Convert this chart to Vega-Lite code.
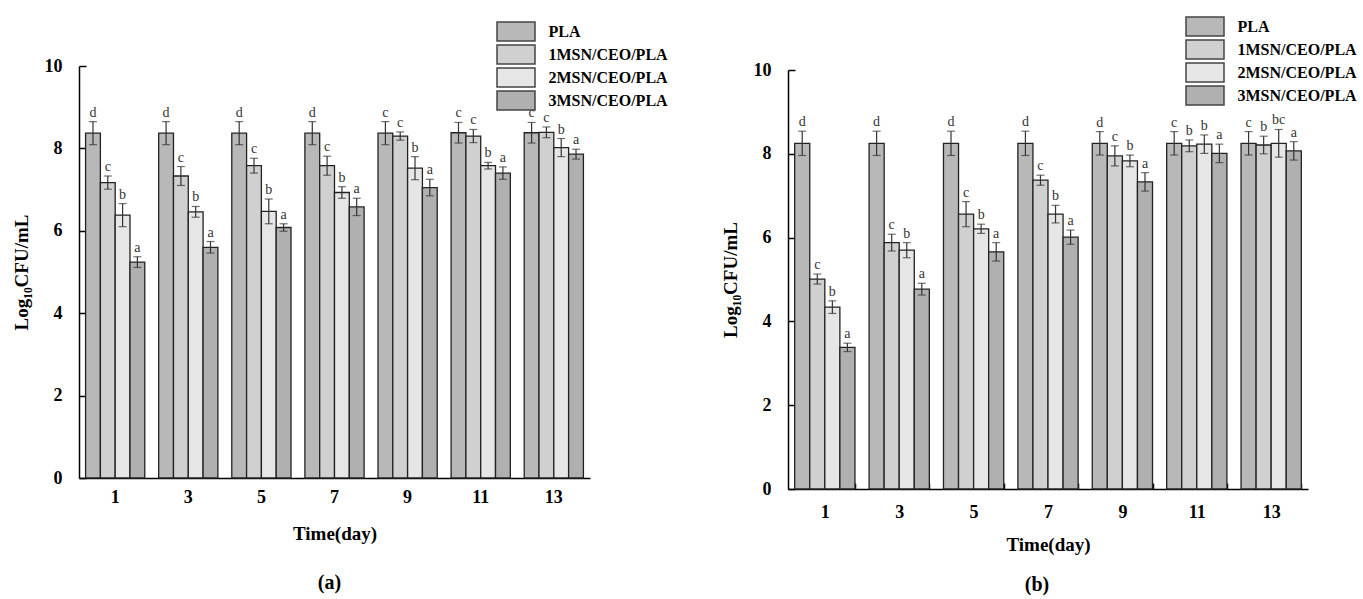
{
  "$schema": "https://vega.github.io/schema/vega-lite/v6.json",
  "background": "white",
  "padding": {"left": 12, "top": 16, "right": 0, "bottom": 0},
  "bounds": "flush",
  "spacing": 198,
  "config": {
    "view": {"stroke": null},
    "font": "Liberation Serif"
  },
  "datasets": {
    "a": [
      {"day": "1", "series": "PLA", "v": 8.37, "lo": 8.09, "hi": 8.65, "letter": "d"},
      {"day": "1", "series": "1MSN/CEO/PLA", "v": 7.17, "lo": 7.01, "hi": 7.33, "letter": "c"},
      {"day": "1", "series": "2MSN/CEO/PLA", "v": 6.38, "lo": 6.10, "hi": 6.66, "letter": "b"},
      {"day": "1", "series": "3MSN/CEO/PLA", "v": 5.24, "lo": 5.11, "hi": 5.37, "letter": "a"},
      {"day": "3", "series": "PLA", "v": 8.37, "lo": 8.09, "hi": 8.65, "letter": "d"},
      {"day": "3", "series": "1MSN/CEO/PLA", "v": 7.33, "lo": 7.10, "hi": 7.56, "letter": "c"},
      {"day": "3", "series": "2MSN/CEO/PLA", "v": 6.46, "lo": 6.33, "hi": 6.59, "letter": "b"},
      {"day": "3", "series": "3MSN/CEO/PLA", "v": 5.60, "lo": 5.46, "hi": 5.74, "letter": "a"},
      {"day": "5", "series": "PLA", "v": 8.37, "lo": 8.09, "hi": 8.65, "letter": "d"},
      {"day": "5", "series": "1MSN/CEO/PLA", "v": 7.58, "lo": 7.40, "hi": 7.76, "letter": "c"},
      {"day": "5", "series": "2MSN/CEO/PLA", "v": 6.47, "lo": 6.17, "hi": 6.77, "letter": "b"},
      {"day": "5", "series": "3MSN/CEO/PLA", "v": 6.08, "lo": 5.99, "hi": 6.17, "letter": "a"},
      {"day": "7", "series": "PLA", "v": 8.37, "lo": 8.09, "hi": 8.65, "letter": "d"},
      {"day": "7", "series": "1MSN/CEO/PLA", "v": 7.58, "lo": 7.35, "hi": 7.81, "letter": "c"},
      {"day": "7", "series": "2MSN/CEO/PLA", "v": 6.93, "lo": 6.79, "hi": 7.07, "letter": "b"},
      {"day": "7", "series": "3MSN/CEO/PLA", "v": 6.58, "lo": 6.37, "hi": 6.79, "letter": "a"},
      {"day": "9", "series": "PLA", "v": 8.37, "lo": 8.09, "hi": 8.65, "letter": "c"},
      {"day": "9", "series": "1MSN/CEO/PLA", "v": 8.30, "lo": 8.20, "hi": 8.40, "letter": "c"},
      {"day": "9", "series": "2MSN/CEO/PLA", "v": 7.52, "lo": 7.24, "hi": 7.80, "letter": "b"},
      {"day": "9", "series": "3MSN/CEO/PLA", "v": 7.05, "lo": 6.85, "hi": 7.25, "letter": "a"},
      {"day": "11", "series": "PLA", "v": 8.38, "lo": 8.13, "hi": 8.63, "letter": "c"},
      {"day": "11", "series": "1MSN/CEO/PLA", "v": 8.30, "lo": 8.14, "hi": 8.46, "letter": "c"},
      {"day": "11", "series": "2MSN/CEO/PLA", "v": 7.58, "lo": 7.50, "hi": 7.66, "letter": "b"},
      {"day": "11", "series": "3MSN/CEO/PLA", "v": 7.40, "lo": 7.25, "hi": 7.55, "letter": "a"},
      {"day": "13", "series": "PLA", "v": 8.38, "lo": 8.13, "hi": 8.63, "letter": "c"},
      {"day": "13", "series": "1MSN/CEO/PLA", "v": 8.39, "lo": 8.26, "hi": 8.52, "letter": "c"},
      {"day": "13", "series": "2MSN/CEO/PLA", "v": 8.02, "lo": 7.80, "hi": 8.24, "letter": "b"},
      {"day": "13", "series": "3MSN/CEO/PLA", "v": 7.86, "lo": 7.74, "hi": 7.98, "letter": "a"}
    ],
    "b": [
      {"day": "1", "series": "PLA", "v": 8.25, "lo": 7.96, "hi": 8.54, "letter": "d"},
      {"day": "1", "series": "1MSN/CEO/PLA", "v": 5.01, "lo": 4.89, "hi": 5.13, "letter": "c"},
      {"day": "1", "series": "2MSN/CEO/PLA", "v": 4.34, "lo": 4.19, "hi": 4.49, "letter": "b"},
      {"day": "1", "series": "3MSN/CEO/PLA", "v": 3.38, "lo": 3.28, "hi": 3.48, "letter": "a"},
      {"day": "3", "series": "PLA", "v": 8.25, "lo": 7.96, "hi": 8.54, "letter": "d"},
      {"day": "3", "series": "1MSN/CEO/PLA", "v": 5.88, "lo": 5.68, "hi": 6.08, "letter": "c"},
      {"day": "3", "series": "2MSN/CEO/PLA", "v": 5.70, "lo": 5.52, "hi": 5.88, "letter": "b"},
      {"day": "3", "series": "3MSN/CEO/PLA", "v": 4.77, "lo": 4.63, "hi": 4.91, "letter": "a"},
      {"day": "5", "series": "PLA", "v": 8.25, "lo": 7.96, "hi": 8.54, "letter": "d"},
      {"day": "5", "series": "1MSN/CEO/PLA", "v": 6.56, "lo": 6.26, "hi": 6.86, "letter": "c"},
      {"day": "5", "series": "2MSN/CEO/PLA", "v": 6.21, "lo": 6.10, "hi": 6.32, "letter": "b"},
      {"day": "5", "series": "3MSN/CEO/PLA", "v": 5.66, "lo": 5.44, "hi": 5.88, "letter": "a"},
      {"day": "7", "series": "PLA", "v": 8.25, "lo": 7.96, "hi": 8.54, "letter": "d"},
      {"day": "7", "series": "1MSN/CEO/PLA", "v": 7.37, "lo": 7.25, "hi": 7.49, "letter": "c"},
      {"day": "7", "series": "2MSN/CEO/PLA", "v": 6.56, "lo": 6.35, "hi": 6.77, "letter": "b"},
      {"day": "7", "series": "3MSN/CEO/PLA", "v": 6.01, "lo": 5.84, "hi": 6.18, "letter": "a"},
      {"day": "9", "series": "PLA", "v": 8.25, "lo": 7.97, "hi": 8.53, "letter": "d"},
      {"day": "9", "series": "1MSN/CEO/PLA", "v": 7.95, "lo": 7.71, "hi": 8.19, "letter": "c"},
      {"day": "9", "series": "2MSN/CEO/PLA", "v": 7.83, "lo": 7.69, "hi": 7.97, "letter": "b"},
      {"day": "9", "series": "3MSN/CEO/PLA", "v": 7.33, "lo": 7.11, "hi": 7.55, "letter": "a"},
      {"day": "11", "series": "PLA", "v": 8.25, "lo": 7.97, "hi": 8.53, "letter": "c"},
      {"day": "11", "series": "1MSN/CEO/PLA", "v": 8.19, "lo": 8.05, "hi": 8.33, "letter": "b"},
      {"day": "11", "series": "2MSN/CEO/PLA", "v": 8.23, "lo": 8.01, "hi": 8.45, "letter": "b"},
      {"day": "11", "series": "3MSN/CEO/PLA", "v": 8.01, "lo": 7.79, "hi": 8.23, "letter": "a"},
      {"day": "13", "series": "PLA", "v": 8.25, "lo": 7.97, "hi": 8.53, "letter": "c"},
      {"day": "13", "series": "1MSN/CEO/PLA", "v": 8.21, "lo": 8.00, "hi": 8.42, "letter": "b"},
      {"day": "13", "series": "2MSN/CEO/PLA", "v": 8.25, "lo": 7.92, "hi": 8.58, "letter": "bc"},
      {"day": "13", "series": "3MSN/CEO/PLA", "v": 8.07, "lo": 7.85, "hi": 8.29, "letter": "a"}
    ]
  },
  "resolve": {
    "scale": {"x": "independent", "y": "independent", "xOffset": "independent", "fill": "independent"},
    "legend": {"fill": "independent"}
  },
  "hconcat": [
    {
      "width": 511,
      "height": 412,
      "data": {"name": "a"},
      "title": {"text": "(a)", "orient": "bottom", "anchor": "middle", "dx": -5, "font": "Liberation Serif", "fontSize": 20, "fontWeight": "bold", "color": "black", "offset": 30},
      "encoding": {
        "x": {
          "field": "day", "type": "ordinal", "sort": ["1", "3", "5", "7", "9", "11", "13"],
          "scale": {"paddingInner": 0.19, "paddingOuter": 0.09},
          "axis": {
            "title": "Time(day)", "titleFont": "Liberation Serif", "titleFontSize": 19, "titleFontWeight": "bold", "titleColor": "black", "titlePadding": 18,
            "labelFont": "Liberation Serif", "labelFontSize": 18, "labelFontWeight": "bold", "labelColor": "black", "labelAngle": 0, "labelPadding": 10,
            "ticks": false, "domainColor": "black", "domainWidth": 1.5
          }
        },
        "xOffset": {"field": "series", "type": "nominal", "sort": ["PLA", "1MSN/CEO/PLA", "2MSN/CEO/PLA", "3MSN/CEO/PLA"], "scale": {"paddingInner": 0, "paddingOuter": 0}}
      },
      "layer": [
        {
          "mark": {"type": "bar", "stroke": "#222", "strokeWidth": 1.3},
          "encoding": {
            "y": {
              "field": "v", "type": "quantitative", "scale": {"domain": [0, 10], "nice": false},
              "axis": {
                "title": "Log₁₀CFU/mL", "titleFont": "Liberation Serif", "titleFontSize": 19, "titleFontWeight": "bold", "titleColor": "black", "titlePadding": 13,
                "values": [0, 2, 4, 6, 8, 10], "labelFont": "Liberation Serif", "labelFontSize": 18, "labelFontWeight": "bold", "labelColor": "black", "labelPadding": 24,
                "tickSize": -7, "tickColor": "black", "tickWidth": 1.5, "domainColor": "black", "domainWidth": 1.5, "grid": false
              }
            },
            "fill": {
              "field": "series", "type": "nominal",
              "scale": {"domain": ["PLA", "1MSN/CEO/PLA", "2MSN/CEO/PLA", "3MSN/CEO/PLA"], "range": ["#b8b8b8", "#d0d0d0", "#e6e6e6", "#b0b0b0"]},
              "legend": {
                "orient": "none", "legendX": 426.5, "legendY": -45, "title": null,
                "symbolType": "M-2,-1H2V1H-2Z", "symbolSize": 361, "symbolStrokeColor": "#444", "symbolStrokeWidth": 1.5, "symbolOpacity": 1,
                "labelFont": "Liberation Serif", "labelFontWeight": "bold", "labelFontSize": 16, "labelColor": "black", "rowPadding": -5, "labelOffset": 22
              }
            }
          }
        },
        {
          "mark": {"type": "rule", "color": "#333", "strokeWidth": 1.2},
          "encoding": {"y": {"field": "lo", "type": "quantitative"}, "y2": {"field": "hi"}}
        },
        {
          "mark": {"type": "tick", "color": "#333", "size": 8, "thickness": 1.2, "orient": "horizontal"},
          "encoding": {"y": {"field": "hi", "type": "quantitative"}}
        },
        {
          "mark": {"type": "tick", "color": "#333", "size": 8, "thickness": 1.2, "orient": "horizontal"},
          "encoding": {"y": {"field": "lo", "type": "quantitative"}}
        },
        {
          "mark": {"type": "text", "baseline": "bottom", "dy": -2, "font": "Liberation Serif", "fontSize": 14, "color": "#333"},
          "encoding": {"y": {"field": "hi", "type": "quantitative"}, "text": {"field": "letter"}}
        }
      ]
    },
    {
      "width": 520,
      "height": 423,
      "data": {"name": "b"},
      "title": {"text": "(b)", "orient": "bottom", "anchor": "middle", "dx": -11, "font": "Liberation Serif", "fontSize": 20, "fontWeight": "bold", "color": "black", "offset": 21},
      "encoding": {
        "x": {
          "field": "day", "type": "ordinal", "sort": ["1", "3", "5", "7", "9", "11", "13"],
          "scale": {"paddingInner": 0.19, "paddingOuter": 0.09},
          "axis": {
            "title": "Time(day)", "titleFont": "Liberation Serif", "titleFontSize": 19, "titleFontWeight": "bold", "titleColor": "black", "titlePadding": 14,
            "labelFont": "Liberation Serif", "labelFontSize": 18, "labelFontWeight": "bold", "labelColor": "black", "labelAngle": 0, "labelPadding": 20,
            "ticks": true, "tickBand": "extent", "tickSize": -6, "tickColor": "black", "tickWidth": 1.5, "domainColor": "black", "domainWidth": 1.5
          }
        },
        "xOffset": {"field": "series", "type": "nominal", "sort": ["PLA", "1MSN/CEO/PLA", "2MSN/CEO/PLA", "3MSN/CEO/PLA"], "scale": {"paddingInner": 0, "paddingOuter": 0}}
      },
      "layer": [
        {
          "mark": {"type": "bar", "stroke": "#222", "strokeWidth": 1.3},
          "encoding": {
            "y": {
              "field": "v", "type": "quantitative", "scale": {"domain": [0, 10], "nice": false, "range": [423, 4]},
              "axis": {
                "title": "Log₁₀CFU/mL", "titleFont": "Liberation Serif", "titleFontSize": 19, "titleFontWeight": "bold", "titleColor": "black", "titlePadding": 13,
                "values": [0, 2, 4, 6, 8, 10], "labelFont": "Liberation Serif", "labelFontSize": 18, "labelFontWeight": "bold", "labelColor": "black", "labelPadding": 24,
                "tickSize": -7, "tickColor": "black", "tickWidth": 1.5, "domainColor": "black", "domainWidth": 1.5, "grid": false
              }
            },
            "fill": {
              "field": "series", "type": "nominal",
              "scale": {"domain": ["PLA", "1MSN/CEO/PLA", "2MSN/CEO/PLA", "3MSN/CEO/PLA"], "range": ["#b8b8b8", "#d0d0d0", "#e6e6e6", "#b0b0b0"]},
              "legend": {
                "orient": "none", "legendX": 406.5, "legendY": -50, "title": null,
                "symbolType": "M-2,-1H2V1H-2Z", "symbolSize": 361, "symbolStrokeColor": "#444", "symbolStrokeWidth": 1.5, "symbolOpacity": 1,
                "labelFont": "Liberation Serif", "labelFontWeight": "bold", "labelFontSize": 16, "labelColor": "black", "rowPadding": -5, "labelOffset": 22
              }
            }
          }
        },
        {
          "mark": {"type": "rule", "color": "#333", "strokeWidth": 1.2},
          "encoding": {"y": {"field": "lo", "type": "quantitative"}, "y2": {"field": "hi"}}
        },
        {
          "mark": {"type": "tick", "color": "#333", "size": 8, "thickness": 1.2, "orient": "horizontal"},
          "encoding": {"y": {"field": "hi", "type": "quantitative"}}
        },
        {
          "mark": {"type": "tick", "color": "#333", "size": 8, "thickness": 1.2, "orient": "horizontal"},
          "encoding": {"y": {"field": "lo", "type": "quantitative"}}
        },
        {
          "mark": {"type": "text", "baseline": "bottom", "dy": -2, "font": "Liberation Serif", "fontSize": 14, "color": "#333"},
          "encoding": {"y": {"field": "hi", "type": "quantitative"}, "text": {"field": "letter"}}
        }
      ]
    }
  ]
}
